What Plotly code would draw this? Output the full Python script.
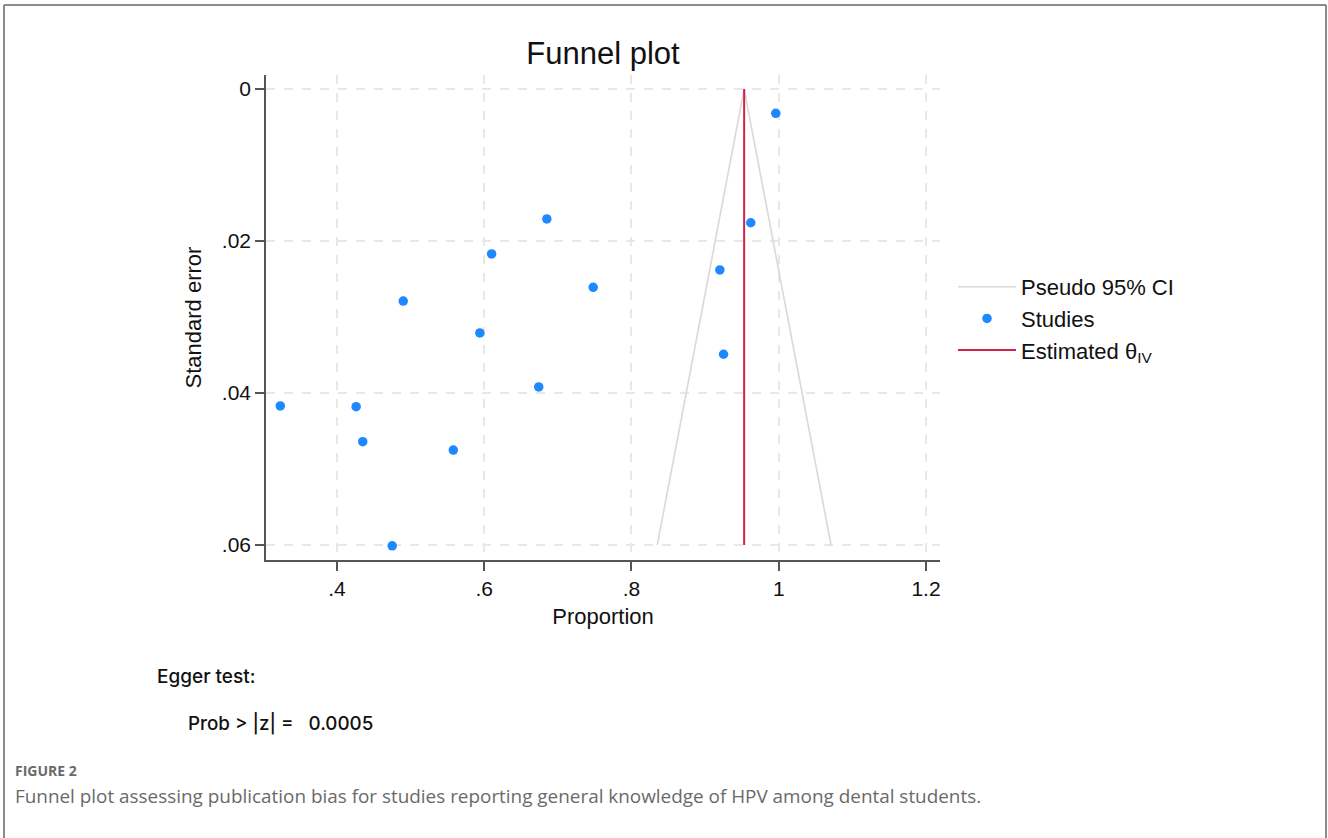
import plotly.graph_objects as go

# ---- data ----
study_proportion = [0.996, 0.685, 0.962, 0.610, 0.920, 0.748, 0.490, 0.594,
                    0.925, 0.674, 0.323, 0.426, 0.435, 0.558, 0.475]
study_se = [0.0032, 0.0171, 0.0176, 0.0217, 0.0238, 0.0261, 0.0279, 0.0321,
            0.0349, 0.0392, 0.0417, 0.0418, 0.0464, 0.0475, 0.0601]

theta_iv = 0.953
ci_se = [0.0, 0.06]
ci_lower = [0.953, 0.835]
ci_upper = [0.953, 1.071]

x_ticks = [0.4, 0.6, 0.8, 1.0, 1.2]
x_tick_labels = [".4", ".6", ".8", "1", "1.2"]
y_ticks = [0, 0.02, 0.04, 0.06]
y_tick_labels = ["0", ".02", ".04", ".06"]

FONT = "Liberation Sans, Arial, Helvetica, sans-serif"

fig = go.Figure()

fig.add_trace(go.Scatter(
    x=ci_lower[::-1] + ci_upper, y=ci_se[::-1] + ci_se,
    mode="lines", line=dict(color="#d9d9d9", width=1.6),
    name="Pseudo 95% CI", hoverinfo="skip"))

fig.add_trace(go.Scatter(
    x=study_proportion, y=study_se, mode="markers",
    marker=dict(color="#1e88ff", size=9.5, line=dict(width=0)),
    name="Studies"))

fig.add_trace(go.Scatter(
    x=[theta_iv, theta_iv], y=ci_se, mode="lines",
    line=dict(color="#d4214f", width=2),
    name="Estimated θ<sub>IV</sub>"))

L, R, T, B = 266, 388, 75, 278
W, H = 1328, 838
pw, ph = W - L - R, H - T - B

def px(xp):
    return (xp - L) / pw

def py(yp):
    return (H - B - yp) / ph

fig.update_layout(
    width=W, height=H,
    margin=dict(l=L, r=R, t=T, b=B, autoexpand=False),
    paper_bgcolor="white", plot_bgcolor="white",
    font=dict(family=FONT, color="#111111"),
    title=dict(text="Funnel plot", x=0.5, xref="paper",
               y=1 - 53 / H, yref="container", yanchor="middle",
               font=dict(size=31, family=FONT, color="#111111")),
    xaxis=dict(range=[0.3036, 1.219], tickvals=x_ticks, ticktext=x_tick_labels,
               showgrid=True, gridcolor="#e8e8e8", griddash="dash", gridwidth=1.5,
               showline=True, linecolor="#555555", linewidth=1.5,
               ticks="outside", ticklen=9, tickcolor="#555555", tickwidth=1.5,
               tickfont=dict(size=21, family=FONT, color="#111111"),
               title=dict(text="Proportion", standoff=10,
                          font=dict(size=22, family=FONT, color="#111111")),
               zeroline=False),
    yaxis=dict(range=[0.06197, -0.00184], tickvals=y_ticks, ticktext=y_tick_labels,
               showgrid=True, gridcolor="#e8e8e8", griddash="dash", gridwidth=1.5,
               showline=True, linecolor="#555555", linewidth=1.5,
               ticks="outside", ticklen=9, tickcolor="#555555", tickwidth=1.5,
               tickfont=dict(size=21, family=FONT, color="#111111"),
               title=dict(text="Standard error", standoff=14,
                          font=dict(size=22, family=FONT, color="#111111")),
               zeroline=False),
    legend=dict(x=px(953), y=py(266), xanchor="left", yanchor="top",
                font=dict(size=22, family=FONT, color="#111111"),
                itemwidth=58,
                bgcolor="rgba(0,0,0,0)", tracegroupgap=0),
    showlegend=True,
)

annotations = [
    dict(text="Egger test:", x=px(155), y=py(676), xanchor="left", yanchor="middle",
         font=dict(size=19, family="Inter, sans-serif", weight=500, color="#111111")),
    dict(text="Prob > |z| =   0.0005", x=px(186), y=py(723), xanchor="left", yanchor="middle",
         font=dict(size=18.8, family="Inter, sans-serif", weight=500, color="#111111")),
    dict(text="<b>FIGURE 2</b>", x=px(13), y=py(770), xanchor="left", yanchor="middle",
         font=dict(size=14, family="Open Sans, sans-serif", color="#6a6a6a")),
    dict(text="Funnel plot assessing publication bias for studies reporting general knowledge of HPV among dental students.",
         x=px(13), y=py(796), xanchor="left", yanchor="middle",
         font=dict(size=18.9, family="Open Sans, sans-serif", color="#6a6a6a")),
]
for a in annotations:
    a.update(xref="paper", yref="paper", showarrow=False)
fig.update_layout(annotations=annotations)

# outer frame (left, top, right edges)
frame = dict(type="line", xref="paper", yref="paper",
             line=dict(color="#666666", width=1.5))
fig.add_shape(**frame, x0=px(4), x1=px(4), y0=py(5), y1=py(H + 5))
fig.add_shape(**frame, x0=px(4), x1=px(1326), y0=py(5), y1=py(5))
fig.add_shape(**frame, x0=px(1326), x1=px(1326), y0=py(5), y1=py(H + 5))

fig.write_html("out.html", config={"displayModeBar": False},
               post_script="document.body.style.margin='0px';document.body.style.overflow='hidden';")
